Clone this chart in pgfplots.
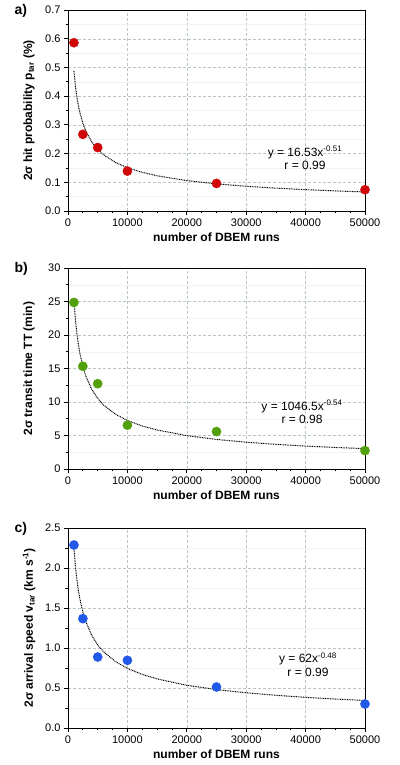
\documentclass[border=0pt]{standalone}
\usepackage{pgfplots}
\pgfplotsset{compat=1.18}
\usepackage{fontspec}
\setmainfont{Liberation Sans}
\definecolor{ptred}{RGB}{208,6,6}
\definecolor{ptgreen}{RGB}{82,160,12}
\definecolor{ptblue}{RGB}{32,88,232}
\definecolor{gridc}{RGB}{185,198,196}
\tikzset{ann/.style={align=center, font=\fontsize{12}{13.5}\selectfont}}
\pgfplotsset{
 panel/.style={
  scale only axis, width=297pt, height=201pt,
  xmin=0, xmax=50000, xtick={0,10000,20000,30000,40000,50000},
  minor x tick num=3, minor y tick num=1,
  scaled ticks=false,
  tick pos=left,
  tick align=outside,
  major tick length=4pt, minor tick length=2.5pt,
  xmajorgrids, ymajorgrids, yminorgrids,
  major grid style={densely dashed, color=gridc},
  minor grid style={color=gray!10},
  axis line style={black, line width=0.9pt},
  tick style={black, line width=0.8pt},
  tick label style={font=\fontsize{11}{13}\selectfont},
  label style={font=\bfseries\fontsize{12}{14}\selectfont},
  xlabel={number of DBEM runs},
  xlabel style={at={(axis description cs:0.5,-0.129)}, anchor=center},
  ylabel style={at={(axis description cs:-0.131,0.5)}, anchor=center},
  /pgf/number format/assume math mode=true,
  /pgf/number format/1000 sep={},
 },
 trend/.style={black, line width=1pt, dash pattern=on 0.9pt off 0.8pt},
 pts/.style={only marks, mark=*, mark size=4.6pt},
}
\begin{document}
\begin{tikzpicture}[x=1pt,y=1pt]
\path[use as bounding box] (0,0) rectangle (399,765);
% ---------- a ----------
\begin{axis}[panel, at={(68pt,554pt)}, anchor=south west,
  ymin=0, ymax=0.7, ytick={0,0.1,...,0.7},
  yticklabel style={/pgf/number format/.cd, fixed, fixed zerofill, precision=1},
  ylabel={2σ hit probability p\textsubscript{tar} (\%)}]
\addplot[trend] coordinates {(1000,0.4877) (1250,0.4353) (1500,0.3967) (1750,0.3666) (2000,0.3425) (2500,0.3057) (3000,0.2785) (4000,0.2405) (5000,0.2146) (6000,0.1956) (8000,0.1689) (10000,0.1507) (12500,0.1345) (15000,0.1226) (20000,0.1058) (25000,0.0945) (30000,0.0861) (35000,0.0796) (40000,0.0743) (45000,0.0700) (50000,0.0663)};
\addplot[pts, ptred, mark options={draw=ptred, fill=ptred}] coordinates {(1000,0.586) (2500,0.267) (5000,0.221) (10000,0.139) (25000,0.096) (50000,0.074)};
\node[ann] at (axis cs:39900,0.185) {y = 16.53x\textsuperscript{-0.51}\\r = 0.99};
\end{axis}
% ---------- b ----------
\begin{axis}[panel, at={(68pt,296pt)}, anchor=south west,
  ymin=0, ymax=30, ytick={0,5,...,30},
  ylabel={2σ transit time TT (min)}]
\addplot[trend] coordinates {(1000,25.10) (1250,22.25) (1500,20.17) (1750,18.56) (2000,17.27) (2500,15.31) (3000,13.87) (4000,11.87) (5000,10.53) (6000,9.54) (8000,8.17) (10000,7.24) (12500,6.42) (15000,5.82) (20000,4.98) (25000,4.41) (30000,4.00) (35000,3.68) (40000,3.42) (45000,3.21) (50000,3.04)};
\addplot[pts, ptgreen, mark options={draw=ptgreen, fill=ptgreen}] coordinates {(1000,24.86) (2500,15.33) (5000,12.73) (10000,6.54) (25000,5.59) (50000,2.75)};
\node[ann] at (axis cs:39400,8.5) {y = 1046.5x\textsuperscript{-0.54}\\r = 0.98};
\end{axis}
% ---------- c ----------
\begin{axis}[panel, at={(68pt,37pt)}, anchor=south west, height=200pt,
  ymin=0, ymax=2.5, ytick={0,0.5,...,2.5},
  yticklabel style={/pgf/number format/.cd, fixed, fixed zerofill, precision=1},
  ylabel={2σ arrival speed v\textsubscript{tar} (km s\textsuperscript{-1})}]
\addplot[trend] coordinates {(1000,2.251) (1250,2.022) (1500,1.853) (1750,1.721) (2000,1.614) (2500,1.450) (3000,1.328) (4000,1.157) (5000,1.040) (6000,0.952) (8000,0.830) (10000,0.745) (12500,0.670) (15000,0.614) (20000,0.534) (25000,0.480) (30000,0.440) (35000,0.409) (40000,0.383) (45000,0.362) (50000,0.344)};
\addplot[pts, ptblue, mark options={draw=ptblue, fill=ptblue}] coordinates {(1000,2.2875) (2500,1.367) (5000,0.8875) (10000,0.846) (25000,0.5125) (50000,0.30)};
\node[ann] at (axis cs:40400,0.79) {y = 62x\textsuperscript{-0.48}\\r = 0.99};
\end{axis}
\node[anchor=base west, font=\bfseries\fontsize{14}{15}\selectfont] at (11,750) {a)};
\node[anchor=base west, font=\bfseries\fontsize{14}{15}\selectfont] at (11,492) {b)};
\node[anchor=base west, font=\bfseries\fontsize{14}{15}\selectfont] at (11,232) {c)};
\end{tikzpicture}
\end{document}
